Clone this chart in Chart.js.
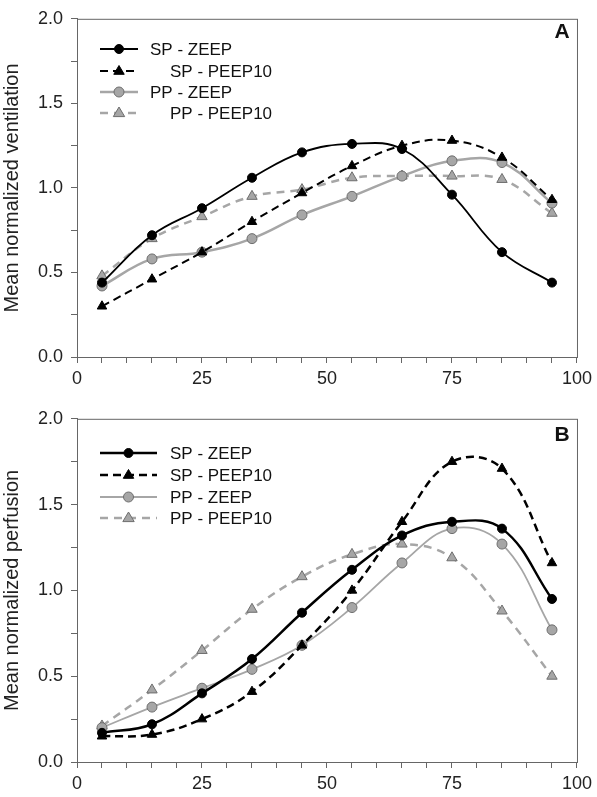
<!DOCTYPE html>
<html>
<head>
<meta charset="utf-8">
<script src="https://cdn.jsdelivr.net/npm/chart.js@4.4.1/dist/chart.umd.min.js"></script>
<style>
  html, body { margin: 0; padding: 0; background: #fff; }
  #wrap { position: relative; width: 597px; height: 797px; }
  canvas { position: absolute; left: 0; }
  #ventChart { top: 0; }
  #perfChart { top: 400px; }
</style>
</head>
<body>
<div id="wrap">
  <canvas id="ventChart" width="597" height="397"></canvas>
  <canvas id="perfChart" width="597" height="397"></canvas>
</div>
<script>
// x positions (percent of lung height)
const depth = [5, 15, 25, 35, 45, 55, 65, 75, 85, 95];

const seriesLabels = ['SP - ZEEP', 'SP - PEEP10', 'PP - ZEEP', 'PP - PEEP10'];

// panel A - ventilation
const ventSpZeep = [0.44, 0.72, 0.88, 1.06, 1.21, 1.26, 1.23, 0.96, 0.62, 0.44];
const ventSpPeep = [0.30, 0.46, 0.62, 0.80, 0.97, 1.13, 1.25, 1.28, 1.18, 0.93];
const ventPpZeep = [0.42, 0.58, 0.62, 0.70, 0.84, 0.95, 1.07, 1.16, 1.15, 0.91];
const ventPpPeep = [0.48, 0.70, 0.83, 0.95, 0.99, 1.06, 1.07, 1.07, 1.05, 0.85];

// panel B - perfusion
const perfSpZeep = [0.17, 0.22, 0.40, 0.60, 0.87, 1.12, 1.32, 1.40, 1.36, 0.95];
const perfSpPeep = [0.15, 0.16, 0.25, 0.41, 0.68, 1.00, 1.40, 1.75, 1.71, 1.16];
const perfPpZeep = [0.20, 0.32, 0.43, 0.54, 0.68, 0.90, 1.16, 1.36, 1.27, 0.77];
const perfPpPeep = [0.21, 0.42, 0.65, 0.89, 1.08, 1.21, 1.27, 1.19, 0.88, 0.50];

const xTicksMajor = [0, 25, 50, 75, 100];
const yTicksMajor = [0, 0.5, 1.0, 1.5, 2.0];

Chart.defaults.font.family = '"Liberation Sans", Arial, sans-serif';
Chart.defaults.color = '#222';

const axisColor = '#666';

function toPoints(values) {
  return values.map((v, i) => ({ x: depth[i], y: v }));
}

function makeDatasets(values, widths) {
  const styles = [
    { color: '#000', fill: '#000', point: 'circle', dash: [], radius: 4.5 },
    { color: '#000', fill: '#000', point: 'triangle', dash: [8, 5], radius: 5.5 },
    { color: '#a6a6a6', fill: '#a6a6a6', point: 'circle', dash: [], radius: 5 },
    { color: '#a6a6a6', fill: '#a6a6a6', point: 'triangle', dash: [8, 6], radius: 6 },
  ];
  return values.map((vals, i) => ({
    label: seriesLabels[i],
    data: toPoints(vals),
    borderColor: styles[i].color,
    borderWidth: widths[i],
    borderDash: styles[i].dash,
    tension: 0.4,
    pointStyle: styles[i].point,
    pointRadius: styles[i].radius,
    pointBackgroundColor: styles[i].fill,
    pointBorderColor: i < 2 ? '#000' : '#6e6e6e',
    pointBorderWidth: 1,
  }));
}

// frame around the plot + panel letter + legend inside the plot
const decorPlugin = {
  id: 'decor',
  afterDraw(chart, args, opts) {
    const { ctx, chartArea } = chart;
    ctx.save();
    ctx.strokeStyle = axisColor;
    ctx.lineWidth = 1;
    ctx.strokeRect(chartArea.left + 0.5, chartArea.top + 0.5,
      chartArea.right - chartArea.left, chartArea.bottom - chartArea.top);

    ctx.fillStyle = '#111';
    ctx.font = 'bold 21px "Liberation Sans", Arial, sans-serif';
    ctx.textAlign = 'center';
    ctx.textBaseline = 'middle';
    ctx.fillText(opts.letter, opts.letterX, opts.letterY);

    ctx.font = '17px "Liberation Sans", Arial, sans-serif';
    ctx.textAlign = 'left';
    chart.data.datasets.forEach((ds, i) => {
      const y = opts.rows[i];
      ctx.strokeStyle = ds.borderColor;
      ctx.lineWidth = ds.borderWidth;
      ctx.setLineDash(ds.borderDash);
      ctx.beginPath();
      ctx.moveTo(opts.lineX0, y);
      ctx.lineTo(opts.lineX1, y);
      ctx.stroke();
      ctx.setLineDash([]);
      const cx = (opts.lineX0 + opts.lineX1) / 2;
      ctx.fillStyle = ds.pointBackgroundColor;
      ctx.strokeStyle = ds.pointBorderColor;
      ctx.lineWidth = 1;
      ctx.beginPath();
      if (ds.pointStyle === 'circle') {
        ctx.arc(cx, y, ds.pointRadius, 0, Math.PI * 2);
      } else {
        const r = ds.pointRadius;
        ctx.moveTo(cx, y - r);
        ctx.lineTo(cx + r * 0.95, y + r * 0.6);
        ctx.lineTo(cx - r * 0.95, y + r * 0.6);
        ctx.closePath();
      }
      ctx.fill();
      ctx.stroke();
      ctx.fillStyle = '#111';
      ctx.fillText(ds.label, opts.textX[i], y + 1);
    });
    ctx.restore();
  },
};

function buildChart(canvasId, values, widths, yTitle, pad, decor) {
  const ctx = document.getElementById(canvasId).getContext('2d');
  return new Chart(ctx, {
    type: 'line',
    data: { datasets: makeDatasets(values, widths) },
    plugins: [decorPlugin],
    options: {
      responsive: false,
      animation: false,
      layout: { padding: { top: pad.top, right: 15, left: 0, bottom: 0 } },
      plugins: {
        legend: { display: false },
        tooltip: { enabled: false },
        decor,
      },
      scales: {
        x: {
          type: 'linear',
          min: 0,
          max: 100,
          afterFit: (scale) => { scale.height = pad.xHeight; },
          border: { color: axisColor },
          grid: { drawOnChartArea: false, tickLength: 6, color: axisColor },
          ticks: {
            stepSize: 5,
            autoSkip: false,
            maxRotation: 0,
            padding: 5,
            font: { size: 18 },
            callback: (v) => (xTicksMajor.includes(v) ? String(v) : ''),
          },
        },
        y: {
          min: 0,
          max: 2,
          afterFit: (scale) => { scale.width = 77; },
          border: { color: axisColor },
          grid: { drawOnChartArea: false, tickLength: 6, color: axisColor },
          title: {
            display: true,
            text: yTitle,
            font: { size: 20 },
            padding: { top: 0, bottom: 0 },
          },
          ticks: {
            stepSize: 0.25,
            autoSkip: false,
            padding: 8,
            font: { size: 18 },
            callback: (v) => (yTicksMajor.some((t) => Math.abs(t - v) < 1e-6) ? v.toFixed(1) : ''),
          },
        },
      },
    },
  });
}

buildChart('ventChart',
  [ventSpZeep, ventSpPeep, ventPpZeep, ventPpPeep],
  [1.8, 2, 2.5, 2.5],
  'Mean normalized ventilation',
  { top: 10, xHeight: 40 },
  {
    letter: 'A', letterX: 562, letterY: 32,
    lineX0: 100, lineX1: 138,
    textX: [150, 170, 150, 170],
    rows: [49, 71, 92, 113],
  });

buildChart('perfChart',
  [perfSpZeep, perfSpPeep, perfPpZeep, perfPpPeep],
  [2.5, 2.5, 1.8, 2.5],
  'Mean normalized perfusion',
  { top: 15, xHeight: 35 },
  {
    letter: 'B', letterX: 562, letterY: 35,
    lineX0: 100, lineX1: 157,
    textX: [170, 170, 170, 170],
    rows: [53, 75, 97, 118],
  });
</script>
</body>
</html>
